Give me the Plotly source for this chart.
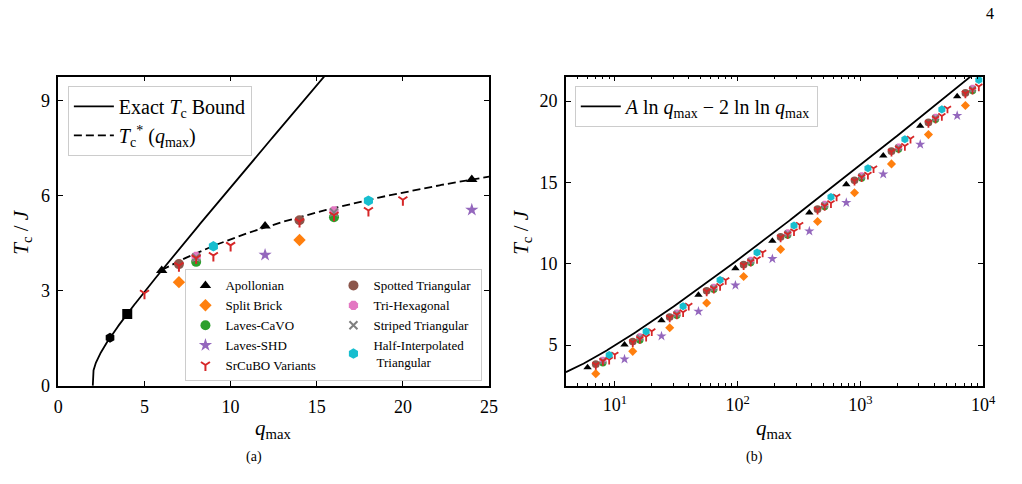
import numpy as np
import plotly.graph_objects as go

FONT = "Liberation Serif"

# ---------------- panel (a) data ----------------
lattice_q = [3, 4]
lattice_T = [1.519, 2.269]

apol_q_a = [6, 12, 24]
apol_T_a = [3.64, 5.04, 6.51]
split_q_a = [7, 14]
split_T_a = [3.27, 4.60]
cavo_q_a = [8, 16]
cavo_T_a = [3.91, 5.32]
shd_q_a = [12, 24]
shd_T_a = [4.13, 5.55]
srcubo_q_a = [5, 7, 8, 9, 10, 14, 16, 18, 20]
srcubo_T_a = [2.92, 3.79, 4.03, 4.11, 4.43, 5.18, 5.38, 5.53, 5.87]
spotted_q_a = [7, 14]
spotted_T_a = [3.84, 5.22]
trihex_q_a = [8, 16]
trihex_T_a = [4.08, 5.52]
striped_q_a = [8, 16]
striped_T_a = [4.05, 5.47]
halfint_q_a = [9, 18]
halfint_T_a = [4.40, 5.84]

# ---------------- panel (b) data ----------------
apol_q_b = [6, 12, 24, 48, 96, 192, 384, 768, 1536, 3072, 6144]
apol_T_b = [3.64, 5.03, 6.52, 8.09, 9.72, 11.40, 13.15, 14.88, 16.65, 18.48, 20.29]
split_q_b = [7, 14, 28, 56, 112, 224, 448, 896, 1792, 3584, 7168]
split_T_b = [3.25, 4.62, 6.07, 7.59, 9.22, 10.89, 12.60, 14.37, 16.14, 17.94, 19.73]
shd_q_b = [12, 24, 48, 96, 192, 384, 768, 1536, 3072, 6144]
shd_T_b = [4.14, 5.56, 7.08, 8.68, 10.31, 12.01, 13.76, 15.51, 17.34, 19.11]
spotted_q_b = [7, 14, 28, 56, 112, 224, 448, 896, 1792, 3584, 7168]
spotted_T_b = [3.83, 5.22, 6.73, 8.34, 9.95, 11.65, 13.36, 15.13, 16.92, 18.69, 20.50]
eight_q_b = [8, 16, 32, 64, 128, 256, 512, 1024, 2048, 4096, 8192]
cavo_T_b = [3.92, 5.32, 6.84, 8.43, 10.08, 11.77, 13.52, 15.28, 17.05, 18.88, 20.65]
trihex_T_b = [4.08, 5.52, 6.98, 8.57, 10.22, 11.91, 13.66, 15.42, 17.19, 19.02, 20.79]
striped_T_b = [4.04, 5.46, 6.93, 8.52, 10.17, 11.86, 13.61, 15.37, 17.14, 18.97, 20.74]
halfint_q_b = [9, 18, 36, 72, 144, 288, 576, 1152, 2304, 4608, 9216]
halfint_T_b = [4.40, 5.84, 7.39, 9.00, 10.69, 12.36, 14.11, 15.87, 17.65, 19.49, 21.30]
srcubo7_q_b = [7, 14, 28, 56, 112, 224, 448, 896, 1792, 3584, 7168]
srcubo7_T_b = [3.79, 5.18, 6.70, 8.30, 9.92, 11.62, 13.33, 15.10, 16.89, 18.66, 20.47]
srcubo8_q_b = [8, 16, 32, 64, 128, 256, 512, 1024, 2048, 4096, 8192]
srcubo8_T_b = [4.03, 5.38, 6.88, 8.47, 10.12, 11.81, 13.56, 15.32, 17.09, 18.92, 20.69]
srcubo9_q_b = [9, 18, 36, 72, 144, 288, 576, 1152, 2304, 4608, 9216]
srcubo9_T_b = [4.11, 5.52, 7.03, 8.64, 10.29, 12.00, 13.73, 15.48, 17.24, 19.09, 20.90]
srcubo10_q_b = [10, 20, 40, 80, 160, 320, 640, 1280, 2560, 5120]
srcubo10_T_b = [4.42, 5.86, 7.43, 9.00, 10.69, 12.40, 14.13, 15.87, 17.69, 19.54]

# ticks
xticks_a = [0, 5, 10, 15, 20, 25]
yticks_a = [0, 3, 6, 9]
xticks_b = [10, 100, 1000, 10000]
xticktext_b = ["10<sup>1</sup>", "10<sup>2</sup>", "10<sup>3</sup>", "10<sup>4</sup>"]
yticks_b = [5, 10, 15, 20]

# ---------------- curves ----------------
q_exact = 2 + 14 * np.linspace(0, 1, 800) ** 3
with np.errstate(divide="ignore", invalid="ignore"):
    T_exact = np.where(q_exact > 2.0000001, 1.0 / np.arctanh(np.tan(np.pi / (2 * q_exact))), 0.0)

q_star = np.linspace(6, 25, 200)
T_star = 2 * np.log2(q_star) - 2 * np.log(np.log(q_star)) - 0.35

q_asym = np.logspace(np.log10(4), 4, 400)
T_asym = (2 / np.log(2)) * np.log(q_asym) - 2 * np.log(np.log(q_asym))

# ---------------- styles ----------------
BLACK = "black"
ORANGE = "#ff7f0e"
GREEN = "#2ca02c"
RED = "#d62728"
PURPLE = "#9467bd"
BROWN = "#8c564b"
PINK = "#e377c2"
GRAY = "#7f7f7f"
CYAN = "#17becf"

fig = go.Figure()

fig.add_trace(go.Scatter(x=q_exact, y=T_exact, mode="lines", line=dict(color=BLACK, width=1.8),
                         name="Exact <i>T</i><sub>c</sub> Bound", legend="legend",
                         xaxis="x", yaxis="y"))
fig.add_trace(go.Scatter(x=q_star, y=T_star, mode="lines", line=dict(color=BLACK, width=1.8, dash="8px,4px"),
                         name="<i>T</i><sub>c</sub><sup>*</sup> (<i>q</i><sub>max</sub>)", legend="legend",
                         xaxis="x", yaxis="y"))

fig.add_trace(go.Scatter(x=lattice_q, y=lattice_T, mode="markers",
                         marker=dict(symbol=["hexagon", "square"], color=BLACK, size=10),
                         showlegend=False, xaxis="x", yaxis="y"))

SA = 10  # marker size panel a
SB = 7   # marker size panel b

series = [
    ("Apollonian", BLACK, "triangle-up", apol_q_a, apol_T_a, "g1", 1, False, 1.0),
    ("Split Brick", ORANGE, "diamond", split_q_a, split_T_a, "g1", 2, False, 0.95),
    ("Laves-CaVO", GREEN, "circle", cavo_q_a, cavo_T_a, "g1", 3, False, 1.0),
    ("Laves-SHD", PURPLE, "star", shd_q_a, shd_T_a, "g1", 4, False, 1.0),
    ("Spotted Triangular", BROWN, "circle", spotted_q_a, spotted_T_a, "g2", 6, False, 1.0),
    ("Tri-Hexagonal", PINK, "octagon", trihex_q_a, trihex_T_a, "g2", 7, False, 1.0),
    ("Striped Triangular", GRAY, "x-thin", striped_q_a, striped_T_a, "g2", 8, True, 0.8),
    ("SrCuBO Variants", RED, "y-down", srcubo_q_a, srcubo_T_a, "g1", 5, True, 0.75),
    ("Half-Interpolated<br> Triangular", CYAN, "hexagon", halfint_q_a, halfint_T_a, "g2", 9, False, 1.05),
]

for name, col, sym, qa, ta, grp, rank, is_open, sc in series:
    if is_open:
        mk = dict(symbol=sym, size=SA * sc, color=col, line=dict(color=col, width=2))
    else:
        mk = dict(symbol=sym, size=SA * sc, color=col, line=dict(width=0))
    fig.add_trace(go.Scatter(x=qa, y=ta, mode="markers", marker=mk, name=name,
                             legend="legend2", legendgroup=grp, legendrank=rank,
                             xaxis="x", yaxis="y"))

fig.add_trace(go.Scatter(x=q_asym, y=T_asym, mode="lines", line=dict(color=BLACK, width=1.8),
                         name="<i>A</i> ln <i>q</i><sub>max</sub> − 2 ln ln <i>q</i><sub>max</sub>",
                         legend="legend3", xaxis="x2", yaxis="y2"))

series_b = [
    (apol_q_b, apol_T_b, BLACK, "triangle-up", False, 1.05),
    (split_q_b, split_T_b, ORANGE, "diamond", False, 1.0),
    (eight_q_b, cavo_T_b, GREEN, "circle", False, 1.05),
    (shd_q_b, shd_T_b, PURPLE, "star", False, 1.1),
    (spotted_q_b, spotted_T_b, BROWN, "circle", False, 1.1),
    (eight_q_b, trihex_T_b, PINK, "octagon", False, 1.05),
    (eight_q_b, striped_T_b, GRAY, "x-thin", True, 0.85),
    (srcubo7_q_b + srcubo8_q_b + srcubo9_q_b + srcubo10_q_b,
     srcubo7_T_b + srcubo8_T_b + srcubo9_T_b + srcubo10_T_b, RED, "y-down", True, 0.85),
    (halfint_q_b, halfint_T_b, CYAN, "hexagon", False, 1.15),
]
for qb, tb, col, sym, is_open, sc in series_b:
    if is_open:
        mk = dict(symbol=sym, size=SB * sc, color=col, line=dict(color=col, width=1.8))
    else:
        mk = dict(symbol=sym, size=SB * sc, color=col, line=dict(width=0))
    fig.add_trace(go.Scatter(x=qb, y=tb, mode="markers", marker=mk, showlegend=False,
                             xaxis="x2", yaxis="y2"))

W, H = 1022, 484
ax_common = dict(showline=True, linecolor="black", linewidth=1.6, mirror="allticks",
                 ticks="inside", ticklen=5, tickwidth=1.2, tickcolor="black",
                 showgrid=False, zeroline=False,
                 tickfont=dict(family=FONT, size=18, color="black"))

minor_b = [m * 10 ** e for e in range(0, 4) for m in range(2, 10) if 4 <= m * 10 ** e <= 10000]

fig.update_layout(
    width=W, height=H,
    margin=dict(l=0, r=0, t=0, b=0),
    paper_bgcolor="white", plot_bgcolor="white",
    font=dict(family=FONT, color="black"),
    xaxis=dict(domain=[54.3 / W, 492.7 / W], range=[0, 25], tickvals=xticks_a, anchor="y",
               ticklabelstandoff=4, **ax_common),
    yaxis=dict(domain=[1 - 394 / H, 1 - 78.3 / H], range=[0, 9.75], tickvals=yticks_a, anchor="x",
               ticklabelstandoff=3, **ax_common),
    xaxis2=dict(domain=[571 / W, 995.7 / W], type="log", range=[np.log10(4), 4],
                tickvals=xticks_b, ticktext=xticktext_b, anchor="y2", ticklabelstandoff=2,
                minor=dict(ticks="inside", ticklen=3, tickwidth=1, tickcolor="black",
                           tickvals=minor_b, showgrid=False),
                **ax_common),
    yaxis2=dict(domain=[1 - 394 / H, 1 - 78.3 / H], range=[2.5, 21.5], tickvals=yticks_b, anchor="x2",
                ticklabelstandoff=3, **ax_common),
    legend=dict(x=64 / W, y=1 - 87.7 / H, xanchor="left", yanchor="top", itemwidth=40,
                bgcolor="rgba(255,255,255,0.85)", bordercolor="#cccccc", borderwidth=1,
                font=dict(family=FONT, size=20, color="black")),
    legend2=dict(x=486 / W, y=1 - 389.5 / H, xanchor="right", yanchor="bottom",
                 orientation="h", traceorder="grouped", entrywidth=103, entrywidthmode="pixels",
                 bgcolor="rgba(255,255,255,0.85)", bordercolor="#cccccc", borderwidth=1,
                 font=dict(family=FONT, size=13, color="black")),
    legend3=dict(x=580 / W, y=1 - 87.7 / H, xanchor="left", yanchor="top", itemwidth=40,
                 bgcolor="rgba(255,255,255,0.85)", bordercolor="#cccccc", borderwidth=1,
                 font=dict(family=FONT, size=20, color="black")),
)

ann_font = dict(family=FONT, size=21, color="black")
annotations = [
    dict(x=273 / W, y=1 - 438 / H, text="<i>q</i><sub>max</sub>", font=ann_font),
    dict(x=783 / W, y=1 - 438 / H, text="<i>q</i><sub>max</sub>", font=ann_font),
    dict(x=17 / W, y=1 - 237 / H, text="<i>T</i><sub>c</sub> / <i>J</i>", textangle=-90, font=ann_font),
    dict(x=526 / W, y=1 - 237 / H, text="<i>T</i><sub>c</sub> / <i>J</i>", textangle=-90, font=ann_font),
    dict(x=253 / W, y=1 - 467 / H, text="(a)", font=dict(family=FONT, size=14, color="black")),
    dict(x=763 / W, y=1 - 467 / H, text="(b)", font=dict(family=FONT, size=14, color="black")),
    dict(x=1003 / W, y=1 - 14 / H, text="4", font=dict(family=FONT, size=16, color="black")),
]
for a in annotations:
    a.update(xref="paper", yref="paper", showarrow=False, xanchor="center", yanchor="middle")
fig.update_layout(annotations=annotations)

fig.write_html("out.html")
